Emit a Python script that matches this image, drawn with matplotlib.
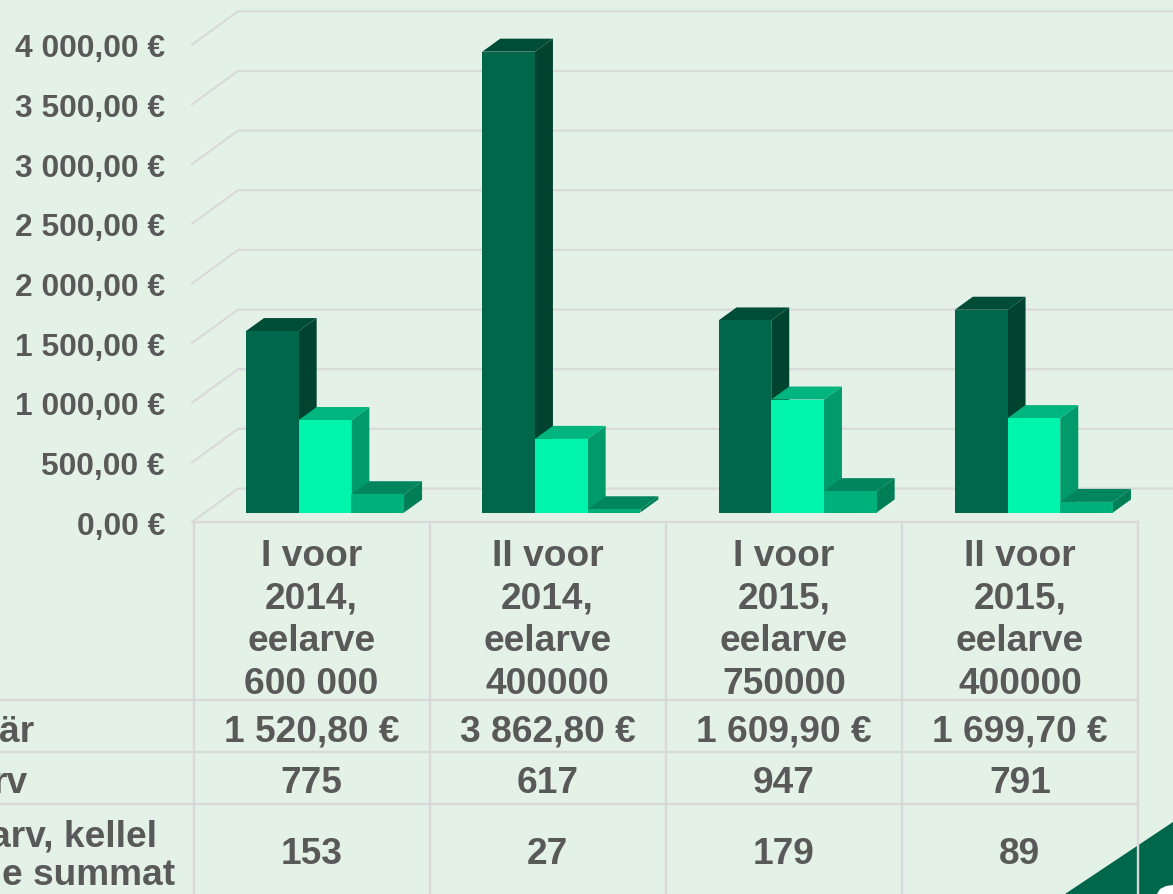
import matplotlib
matplotlib.use("Agg")
import matplotlib.pyplot as plt
from matplotlib.patches import Polygon

plt.rcParams['font.family'] = ['Liberation Sans', 'DejaVu Sans']

categories = ["I voor\n2014,\neelarve\n600 000", "II voor\n2014,\neelarve\n400000",
              "I voor\n2015,\neelarve\n750000", "II voor\n2015,\neelarve\n400000"]
avg_values = [1520.80, 3862.80, 1609.90, 1699.70]
count_values = [775, 617, 947, 791]
extra_values = [153, 27, 179, 89]
avg_labels = ["1 520,80 €", "3 862,80 €", "1 609,90 €", "1 699,70 €"]
y_ticks = [0, 500, 1000, 1500, 2000, 2500, 3000, 3500, 4000]
y_tick_labels = ["0,00 €", "500,00 €", "1 000,00 €", "1 500,00 €", "2 000,00 €",
                 "2 500,00 €", "3 000,00 €", "3 500,00 €", "4 000,00 €"]
row_tail_labels = ["är", "rv"]
row3_tail_lines = ["arv, kellel", "e summat"]

W, H = 1173, 895
BG = '#E4F1E7'
GRID = '#D9D9D9'
TXT = '#595959'
series = [avg_values, count_values, extra_values]
front = ['#00674A', '#00F5AC', '#00B07A']
side = ['#00442F', '#009A6B', '#007F57']
top = ['#004D37', '#00B57E', '#00855C']

fig = plt.figure(figsize=(W / 100, H / 100), dpi=100, facecolor=BG)

# chart axes: x in groups, y in euros
PX_Y = 0.1193
GROUP = 236.3
X0, Y0 = 325.0, 513.5
ax = fig.add_axes([0, 0, 1, 1])
ax.set_xlim(-X0 / GROUP, (W - X0) / GROUP)
ax.set_ylim(-(H - Y0) / PX_Y, Y0 / PX_Y)
ax.axis('off')
bar_w = 52.7 / GROUP
dx, dy = 18 / GROUP, 13 / PX_Y

# wall grid lines
xl, xb = (192 - X0) / GROUP, (238 - X0) / GROUP
xr = (W - X0) / GROUP
yl, yb = -9.5 / PX_Y, 24 / PX_Y
for t, lab in zip(y_ticks, y_tick_labels):
    ax.plot([xl, xb, xr], [t + yl, t + yb, t + yb], color=GRID, lw=1.5, zorder=1,
            solid_joinstyle='miter')
    ax.text((165 - X0) / GROUP, t + yl - 11.5 / PX_Y, lab, ha='right', va='baseline',
            fontsize=22.9, fontweight='bold', color=TXT)

# bars with pseudo depth
z = 2
for g in range(len(categories)):
    for s, vals in enumerate(series):
        x = g + (s - 1) * bar_w
        v = vals[g]
        l, r = x - bar_w / 2, x + bar_w / 2
        ax.add_patch(Polygon([(r, 0), (r + dx, dy), (r + dx, v + dy), (r, v)],
                             fc=side[s], ec='none', zorder=z))
        ax.add_patch(Polygon([(l, v), (r, v), (r + dx, v + dy), (l + dx, v + dy)],
                             fc=top[s], ec='none', zorder=z))
        ax.bar(x, v, width=bar_w, color=front[s], zorder=z)
        z += 1

# table and corner in pixel coordinates
ov = fig.add_axes([0, 0, 1, 1])
ov.set_xlim(0, W)
ov.set_ylim(H, 0)
ov.axis('off')
ov.patch.set_alpha(0)
ov.add_patch(Polygon([(1065, 895), (1173, 823), (1173, 895)], fc='#00674A', ec='none', zorder=1))
ov.add_patch(Polygon([(1157, 895), (1160, 890), (1166, 887), (1173, 886), (1173, 895)],
                     fc='white', ec='none', zorder=1))

col_x = [193.5, 429.5, 665.7, 902, 1138]
for x in col_x:
    ov.plot([x, x], [522.5, H], color=GRID, lw=1.7, zorder=2)
ov.plot([193.5, 1138], [522.7, 522.7], color=GRID, lw=1.7, zorder=2)
for y in [701.2, 753.2, 805.4]:
    ov.plot([0, 1138], [y, y], color=GRID, lw=1.7, zorder=2)

fs = 26.7
tk = dict(ha='center', va='center', fontsize=fs, fontweight='bold', color=TXT, zorder=3)
line_y = [556.5, 598.5, 641.5, 684.5]
for i in range(4):
    cx = (col_x[i] + col_x[i + 1]) / 2
    for ly, s in zip(line_y, categories[i].split("\n")):
        ov.text(cx, ly, s, **tk)
    ov.text(cx, 732, avg_labels[i], **tk)
    ov.text(cx, 784, str(count_values[i]), **tk)
    ov.text(cx, 855, str(extra_values[i]), **tk)

tr = dict(ha='right', va='center', fontsize=fs, fontweight='bold', color=TXT, zorder=3)
ov.text(34, 732, row_tail_labels[0], **tr)
ov.text(28, 784, row_tail_labels[1], **tr)
ov.text(157, 837, row3_tail_lines[0], **tr)
ov.text(175, 876, row3_tail_lines[1], **tr)

fig.savefig('out.png', dpi=100, facecolor=BG)
